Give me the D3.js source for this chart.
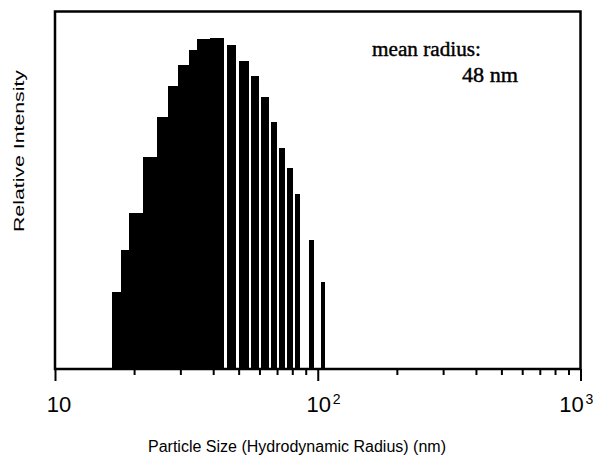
<!DOCTYPE html>
<html>
<head>
<meta charset="utf-8">
<script src="https://cdn.jsdelivr.net/npm/d3@7"></script>
<style>
  html, body { margin: 0; padding: 0; background: #fff; }
  svg { display: block; }
</style>
</head>
<body>
<svg id="chart" width="595" height="458"></svg>
<script>
// ---- data ----
// histogram bins: lower edge (nm), upper edge (nm), relative intensity (%)
const binStart  = [16.44, 17.78, 19.12, 21.57, 24.38, 26.92, 29.46, 32.22, 34.85, 38.90, 45.03, 50.28, 55.72, 61.0, 66.4, 71.2, 76.6, 81.9, 92.9, 102.9];
const binEnd    = [17.78, 19.12, 21.57, 24.38, 26.92, 29.46, 32.22, 34.85, 38.90, 43.98, 48.85, 54.61, 59.62, 65.09, 69.8, 75.08, 80.3, 85.6, 96.5, 106.8];
const intensity = [23.3, 36.0, 47.1, 64.0, 76.2, 85.6, 91.9, 96.5, 99.7, 100, 98.0, 93.1, 88.5, 82.3, 74.5, 66.8, 60.6, 52.8, 39.0, 26.2];

const majorTicks = [10, 100, 1000];
const tickBase   = ["10", "10", "10"];
const tickExp    = ["", "2", "3"];
const minorTicks = [20, 30, 40, 50, 60, 70, 80, 90, 200, 300, 400, 500, 600, 700, 800, 900];

const xTitle = "Particle Size (Hydrodynamic Radius) (nm)";
const yTitle = "Relative Intensity";
const noteLine1 = "mean radius:";
const noteLine2 = "48 nm";

// ---- layout ----
const L = 55, R = 580.5, T = 11.5, B = 369;
const svg = d3.select("#chart");

const x = d3.scaleLog().domain([10, 1000]).range([L, R]);
const y = d3.scaleLinear().domain([0, 100]).range([B, 38]);

// bars
svg.append("g").attr("shape-rendering", "crispEdges").selectAll("rect")
  .data(binStart.map((s, i) => ({ s, e: binEnd[i], v: intensity[i] })))
  .join("rect")
  .attr("x", d => Math.round(x(d.s)))
  .attr("width", d => Math.round(x(d.e)) - Math.round(x(d.s)))
  .attr("y", d => y(d.v))
  .attr("height", d => y(0) - y(d.v))
  .attr("fill", "#000");

// frame
svg.append("rect")
  .attr("x", L).attr("y", T)
  .attr("width", R - L).attr("height", B - T)
  .attr("fill", "none").attr("stroke", "#000").attr("stroke-width", 2.5);

// ticks
const minorAxis = d3.axisBottom(x).tickValues(minorTicks).tickSize(6).tickFormat("");
const majorAxis = d3.axisBottom(x).tickValues(majorTicks).tickSize(12).tickFormat("");
[minorAxis, majorAxis].forEach(ax => {
  const g = svg.append("g").attr("transform", `translate(0,${B})`).call(ax);
  g.select(".domain").remove();
  g.selectAll("line").attr("stroke", "#000").attr("stroke-width", 2);
});

// tick labels
const baseOffset = [4, 1, -9];
majorTicks.forEach((v, i) => {
  const cx = x(v) + baseOffset[i];
  svg.append("text")
    .attr("x", cx).attr("y", 412)
    .attr("text-anchor", "middle")
    .attr("font-family", "Liberation Sans, Arial, sans-serif")
    .attr("font-size", 22)
    .attr("fill", "#000")
    .text(tickBase[i]);
  if (tickExp[i]) {
    svg.append("text")
      .attr("x", cx + 14).attr("y", 404)
      .attr("font-family", "Liberation Sans, Arial, sans-serif")
      .attr("font-size", 14)
      .attr("fill", "#000")
      .text(tickExp[i]);
  }
});

// axis titles
svg.append("text")
  .attr("x", 148).attr("y", 452)
  .attr("font-family", "Liberation Sans, Arial, sans-serif")
  .attr("font-size", 16)
  .attr("textLength", 298).attr("lengthAdjust", "spacingAndGlyphs")
  .attr("fill", "#000")
  .text(xTitle);

svg.append("text")
  .attr("transform", "translate(24,151) rotate(-90)")
  .attr("text-anchor", "middle")
  .attr("font-family", "Liberation Sans, Arial, sans-serif")
  .attr("font-size", 15)
  .attr("textLength", 162).attr("lengthAdjust", "spacingAndGlyphs")
  .attr("fill", "#000")
  .text(yTitle);

// annotation
svg.append("text")
  .attr("x", 372).attr("y", 56)
  .attr("font-family", "Liberation Serif, Times New Roman, serif")
  .attr("font-size", 20)
  .attr("textLength", 109).attr("lengthAdjust", "spacingAndGlyphs")
  .attr("fill", "#000").attr("stroke", "#000").attr("stroke-width", 0.4)
  .text(noteLine1);

svg.append("text")
  .attr("x", 462).attr("y", 82)
  .attr("font-family", "Liberation Serif, Times New Roman, serif")
  .attr("font-size", 20)
  .attr("textLength", 56).attr("lengthAdjust", "spacingAndGlyphs")
  .attr("fill", "#000").attr("stroke", "#000").attr("stroke-width", 0.4)
  .text(noteLine2);
</script>
</body>
</html>
